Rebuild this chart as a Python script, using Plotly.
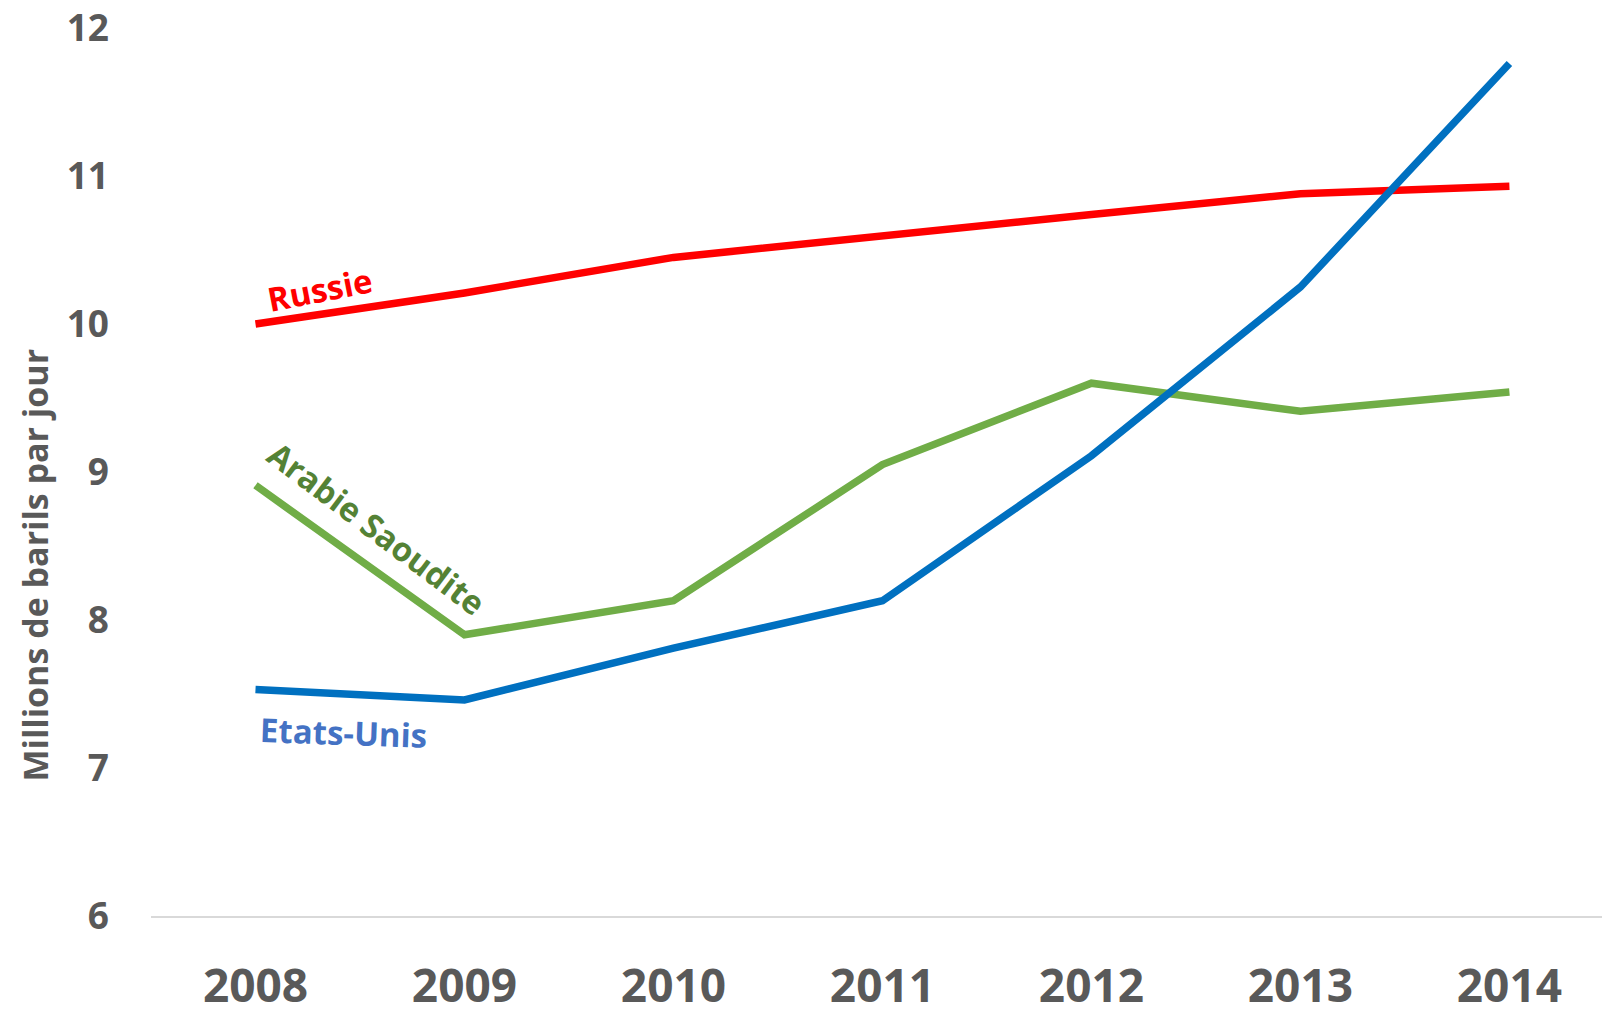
import plotly.graph_objects as go

years = ["2008", "2009", "2010", "2011", "2012", "2013", "2014"]
russie = [10.00, 10.21, 10.45, 10.60, 10.74, 10.88, 10.93]
arabie = [8.91, 7.90, 8.13, 9.05, 9.60, 9.41, 9.54]
etats_unis = [7.53, 7.46, 7.81, 8.13, 9.11, 10.25, 11.76]
y_ticks = [6, 7, 8, 9, 10, 11, 12]

FONT = "Open Sans"
GREY = "#595959"

fig = go.Figure()
fig.add_trace(go.Scatter(x=years, y=russie, mode="lines", line=dict(color="#FF0000", width=7.5), name="Russie"))
fig.add_trace(go.Scatter(x=years, y=arabie, mode="lines", line=dict(color="#70AD47", width=7.5), name="Arabie Saoudite"))
fig.add_trace(go.Scatter(x=years, y=etats_unis, mode="lines", line=dict(color="#0070C0", width=7.5), name="Etats-Unis"))

fig.update_layout(
    width=1602, height=1015,
    margin=dict(l=151, r=0, t=28, b=90),
    paper_bgcolor="white", plot_bgcolor="white",
    showlegend=False,
    font=dict(family=FONT, color=GREY),
    xaxis=dict(type="category", range=[-0.5, 6.443], showgrid=False, zeroline=False,
               showline=True, linecolor="#D9D9D9", linewidth=1.5,
               tickfont=dict(family=FONT, size=46, color=GREY, weight="bold"),
               ticks="", ticklabelstandoff=29),
    yaxis=dict(range=[6, 12], tickvals=y_ticks, showgrid=False, zeroline=False, showline=False,
               tickfont=dict(family=FONT, size=37, color=GREY, weight="bold"),
               ticks="", ticklabelstandoff=41),
    annotations=[
        dict(text="Millions de barils par jour", xref="paper", yref="paper",
             x=(35 - 151) / 1451, y=(925 - 571) / 897, xanchor="center", yanchor="middle",
             textangle=-90, showarrow=False,
             font=dict(family=FONT, size=34, color=GREY, weight="bold")),
        dict(text="Russie", xref="x", yref="y", x=0.31, y=10.23, textangle=-11, showarrow=False,
             font=dict(family=FONT, size=33, color="#FF0000", weight="bold")),
        dict(text="Arabie Saoudite", xref="x", yref="y", x=0.58, y=8.62, textangle=37, showarrow=False,
             font=dict(family=FONT, size=33, color="#548235", weight="bold")),
        dict(text="Etats-Unis", xref="x", yref="y", x=0.42, y=7.24, textangle=2, showarrow=False,
             font=dict(family=FONT, size=33, color="#4472C4", weight="bold")),
    ],
)

fig.write_html("out.html", config={"displayModeBar": False},
               post_script="document.body.style.margin='0';")
